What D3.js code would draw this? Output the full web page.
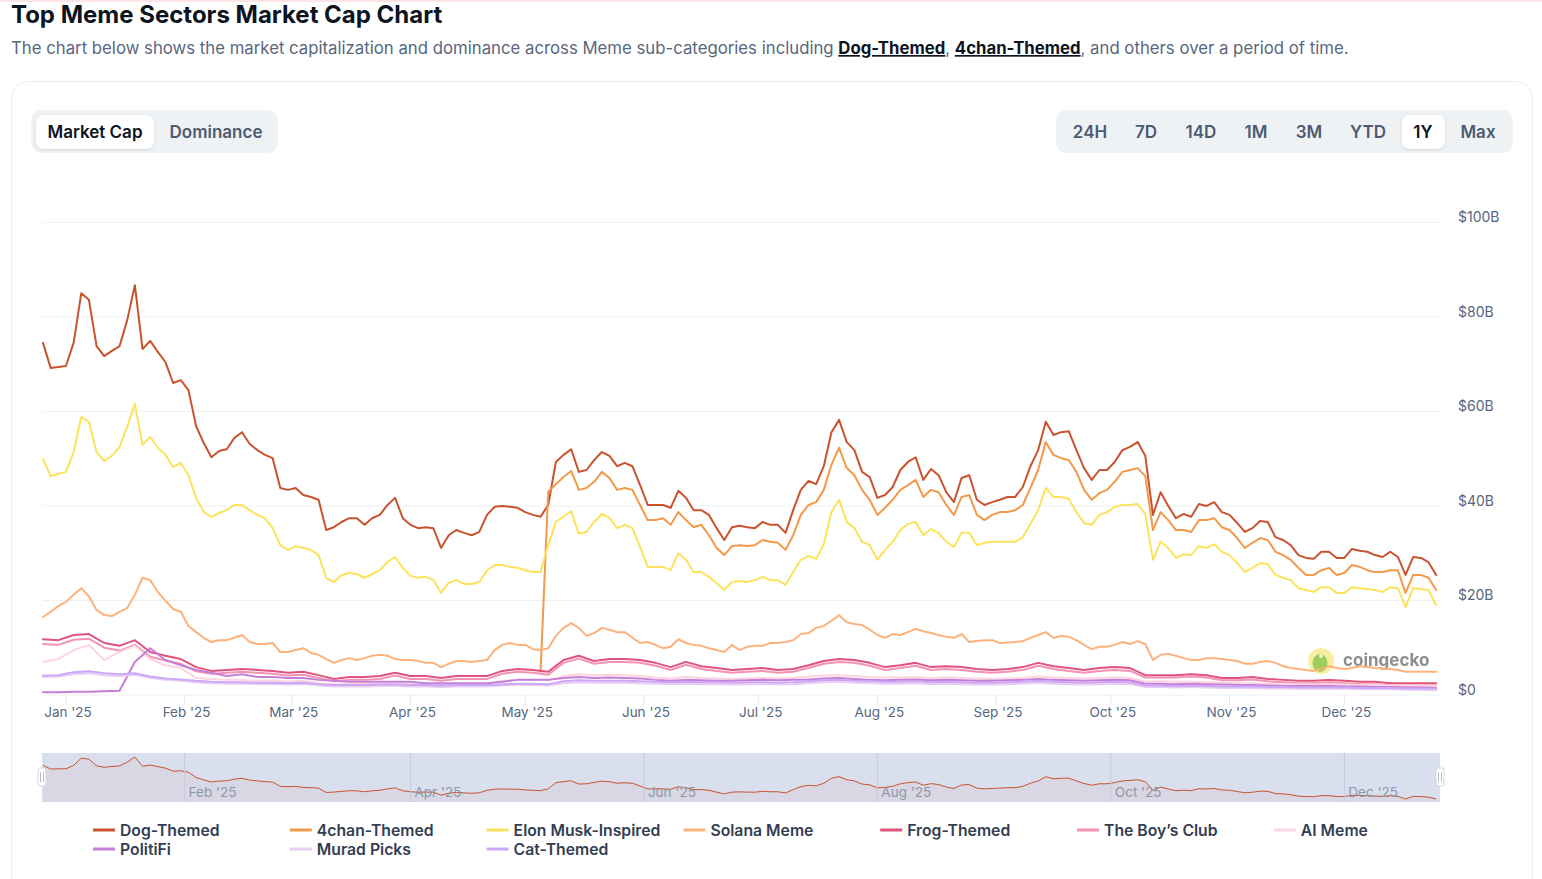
<!DOCTYPE html>
<html>
<head>
<meta charset="utf-8">
<script src="https://cdn.jsdelivr.net/npm/d3@7"></script>
<style>
  html, body { margin: 0; padding: 0; background: #fff; }
  svg { display: block; font-family: "Inter", "Noto Sans", sans-serif; }
</style>
</head>
<body>
<svg id="chart" width="1542" height="879"></svg>
<script>
// data, $B
const seriesNames = ["Dog-Themed", "4chan-Themed", "Elon Musk-Inspired", "Solana Meme", "Frog-Themed",
  "The Boy\u2019s Club", "AI Meme", "PolitiFi", "Murad Picks", "Cat-Themed"];
const seriesColors = ["#c9532f", "#f2994a", "#fde25c", "#fdb27c", "#e0537a",
  "#f392b4", "#fdd4df", "#c67fd6", "#e9cdf3", "#cba7f7"];

// one value every 2 days from 26 Dec 2024
const dogThemed = [74.5,69.2,69.4,69.6,74.5,85.0,83.6,73.8,71.7,72.8,
  73.8,79.3,86.7,73.2,74.9,72.6,70.4,66.0,66.6,64.5,
  56.9,53.3,50.3,51.6,52.0,54.4,55.6,53.1,51.8,50.8,
  50.1,43.8,43.4,43.8,42.3,41.9,41.3,34.9,35.5,36.6,
  37.4,37.4,36.0,37.4,38.1,40.2,41.7,37.4,36.0,35.3,
  35.5,35.3,31.1,33.8,34.9,34.3,33.8,34.5,38.1,
  39.8,40.0,39.8,39.6,38.7,38.1,37.7,40.2,49.3,50.8,
  52.0,47.2,47.6,49.7,51.4,50.6,48.4,49.1,48.4,44.4,
  40.2,40.2,40.2,39.6,43.2,41.7,39.1,39.1,38.1,35.3,
  32.8,35.5,35.8,35.5,35.3,36.6,36.0,36.0,34.3,39.1,
  43.4,45.3,44.6,48.4,55.6,58.2,53.5,51.8,47.2,46.1,
  41.7,42.3,44.0,47.6,49.3,50.3,45.5,47.8,46.5,42.9,
  40.8,45.9,46.5,41.3,40.2,40.8,41.3,41.9,41.9,44.0,
  48.4,51.8,57.8,55.0,55.6,55.8,51.8,48.0,45.5,47.6,
  47.6,49.3,51.8,52.5,53.5,50.6,38.1,42.9,40.0,37.4,
  38.3,37.7,40.4,40.0,40.8,38.7,38.1,36.4,34.5,35.3,
  36.8,36.6,33.4,32.8,31.7,29.6,29.0,28.8,30.3,
  30.3,29.0,29.0,30.9,30.5,30.3,29.6,29.2,30.3,29.2,
  25.4,29.2,29.0,28.1,25.4];

const fourchanThemed = [null,null,null,null,null,null,null,null,null,null,
  null,null,null,null,null,null,null,null,null,null,
  null,null,null,null,null,null,null,null,null,null,
  null,null,null,null,null,null,null,null,null,null,
  null,null,null,null,null,null,null,null,null,null,
  null,null,null,null,null,null,null,null,null,null,
  null,null,null,null,null,
  4.9,43.0,
  44.6,46.1,47.4,43.4,43.8,45.1,47.2,45.9,43.4,43.8,43.4,40.2,
  37.0,37.0,37.4,36.0,38.7,37.0,35.5,36.0,33.8,31.1,
  29.6,31.5,31.7,31.5,31.7,32.8,32.4,32.2,30.7,33.8,
  38.1,40.2,40.8,43.4,48.7,52.3,48.0,46.5,43.4,41.3,
  38.1,39.6,41.3,43.4,44.4,45.5,41.9,43.4,42.9,40.2,
  38.1,41.9,42.3,38.1,37.0,38.1,38.7,38.7,39.1,40.2,
  43.8,47.6,53.5,50.8,50.1,49.7,47.2,43.4,41.3,42.7,
  43.4,45.1,47.2,47.6,48.0,46.3,34.9,38.7,37.0,34.9,
  34.9,34.5,37.0,37.0,37.4,35.5,34.9,33.2,31.1,32.2,
  33.2,32.8,30.3,29.6,28.6,26.9,25.4,25.4,26.4,
  26.9,25.4,25.8,27.5,27.1,26.4,26.0,26.0,26.4,26.4,
  21.6,25.4,25.4,24.8,22.2];

const elonMusk = [49.9,46.3,46.8,47.2,51.4,58.8,57.8,51.4,49.5,50.6,
  52.5,56.7,61.6,52.9,54.6,52.3,50.8,48.2,49.1,46.5,
  41.7,38.7,37.7,38.5,39.1,40.2,40.2,39.1,38.1,37.4,
  35.3,31.7,30.7,31.5,31.1,30.7,29.6,24.8,23.9,25.4,
  25.8,25.6,24.8,25.6,26.4,28.1,29.2,26.9,25.2,24.8,
  25.0,24.3,21.6,23.7,24.3,23.5,23.5,23.9,26.4,
  27.5,27.5,27.1,26.9,26.4,26.0,26.0,31.7,36.6,37.7,
  38.9,34.1,34.5,36.6,38.3,37.4,35.3,36.0,35.3,31.3,
  27.1,27.1,27.1,26.4,30.0,28.6,26.0,26.0,25.0,23.7,
  22.2,23.9,24.1,23.9,24.3,25.0,24.3,24.3,23.3,26.0,
  28.6,29.4,28.8,31.9,38.7,41.3,36.6,35.3,32.4,31.7,
  28.6,30.7,32.4,34.9,36.2,36.6,33.8,35.1,34.3,32.4,
  31.3,34.3,34.3,31.7,32.2,32.4,32.4,32.4,32.4,33.4,
  36.2,39.1,43.8,41.9,41.9,41.5,38.7,36.4,36.0,38.1,
  38.7,39.8,40.2,40.2,40.4,38.3,28.6,32.4,31.1,29.0,
  29.8,29.6,31.5,31.1,31.9,30.3,29.6,27.9,26.0,26.9,
  27.9,27.7,25.4,24.8,24.3,22.6,22.2,21.8,22.8,
  22.8,21.6,21.6,22.8,22.6,22.4,22.2,21.8,22.8,22.6,
  18.6,22.6,22.4,22.2,19.0];

const solanaMeme = [16.5,17.6,18.8,19.7,21.2,22.6,20.9,18.0,16.9,16.7,
  17.6,18.4,21.2,24.8,24.3,21.8,19.9,18.2,17.6,14.6,
  13.3,12.1,11.2,11.6,11.6,12.1,12.7,11.2,10.8,10.8,
  11.0,9.1,9.1,9.5,9.9,8.9,8.5,7.6,6.8,7.4,
  7.8,7.4,7.8,8.3,8.5,8.3,7.6,7.4,7.4,7.2,
  6.8,6.8,5.9,6.6,7.2,7.2,7.0,7.2,7.4,
  9.5,10.6,11.0,10.6,10.6,9.7,9.5,9.9,12.5,14.2,
  15.2,14.2,12.5,13.1,14.2,13.8,13.3,13.3,12.1,11.0,
  11.2,10.6,9.9,10.2,11.8,11.0,10.6,10.4,9.9,9.5,
  9.1,10.6,9.5,10.2,10.4,10.4,11.0,11.0,11.2,11.6,
  12.9,13.1,14.2,14.6,15.7,16.9,15.4,15.0,14.8,13.8,
  12.7,12.1,12.9,12.7,13.3,14.0,13.5,13.1,12.7,12.3,
  12.1,12.9,11.2,11.4,11.6,11.6,11.0,11.1,11.2,11.4,
  12.1,12.7,13.3,12.1,12.5,12.3,11.6,10.6,9.7,10.2,
  10.2,10.6,11.2,10.8,11.4,10.8,7.4,8.5,8.7,8.3,
  7.8,7.4,7.4,7.8,7.8,7.6,7.4,7.2,6.6,6.6,
  7.0,7.2,6.8,6.1,5.7,5.5,5.3,5.1,5.5,
  6.1,5.7,5.5,5.7,6.1,5.9,5.7,5.6,5.5,5.3,
  4.9,4.9,4.9,4.9,4.9];

// one value every 4 days from 26 Dec 2024
const frogThemed = [11.8,11.6,12.7,12.9,11.0,10.4,11.6,9.1,8.3,7.6,
  5.9,5.1,5.3,5.5,5.3,5.1,4.7,4.9,4.2,3.4,
  3.8,3.8,4.0,4.7,4.0,4.0,3.6,4.0,4.0,4.0,
  5.1,5.5,5.3,4.9,7.4,8.3,7.2,7.6,7.6,7.4,
  6.8,5.9,7.0,6.1,5.7,5.3,5.5,5.7,5.3,5.5,
  6.3,7.2,7.6,7.4,6.8,5.9,6.3,6.8,5.9,
  6.1,5.9,5.5,5.3,5.5,5.9,6.8,6.1,5.7,5.3,
  5.7,5.9,5.7,4.2,4.2,4.2,4.4,4.2,3.6,3.6,
  3.8,3.4,3.2,3.0,3.0,3.2,3.0,2.8,2.8,2.5,
  2.5,2.5,2.5];
const boysClub = [10.8,10.6,11.7,11.9,10.0,9.4,10.6,8.1,7.3,6.6,5.0,
  4.5,4.7,4.9,4.7,4.5,4.1,4.3,3.6,2.9,3.2,3.2,3.4,4.1,3.4,3.4,3.0,3.4,3.4,3.4,
  4.5,4.9,4.7,4.3,6.8,7.7,6.6,7.0,7.0,6.8,6.2,5.3,6.4,5.5,5.1,4.7,4.9,5.1,4.7,4.9,5.7,6.6,7.0,6.8,6.2,
  5.3,5.7,6.2,5.3,5.5,5.3,4.9,4.7,4.9,5.3,6.2,5.5,5.1,4.7,5.1,5.3,5.1,3.7,3.7,3.7,3.9,3.7,3.1,3.1,
  3.3,2.9,2.7,2.5,2.5,2.7,2.5,2.3,2.3,2.0,2.0,2.0,2.0];
const aiMeme = [7.0,7.6,9.5,10.6,7.4,9.1,10.4,7.6,6.3,5.7,
  3.6,3.4,3.2,3.2,3.0,3.0,2.8,3.0,2.5,2.3,
  2.3,2.4,2.3,2.5,2.3,2.3,2.2,2.3,2.3,2.4,
  3.0,3.2,3.2,3.1,4.0,4.4,4.2,4.3,4.2,4.0,
  3.7,3.5,3.8,3.6,3.5,3.4,3.5,3.6,3.5,3.6,
  3.9,4.1,4.2,4.0,3.8,
  3.7,3.7,3.8,3.6,3.7,3.6,3.5,3.4,3.5,3.6,3.9,3.7,3.6,3.5,
  3.6,3.7,3.6,2.8,2.9,2.8,2.8,2.7,2.6,2.5,
  2.5,2.4,2.3,2.3,2.2,2.3,2.2,2.1,2.1,2.0,2.0,2.0,1.9];
const politiFi = [0.6,0.6,0.7,0.7,0.8,0.9,7.0,9.9,7.4,6.3,
  5.3,4.7,4.0,4.4,3.8,3.8,3.6,3.6,3.2,3.0,
  2.8,2.8,2.8,2.8,2.8,2.5,2.5,2.5,2.5,2.5,
  2.8,3.2,3.2,3.2,3.6,3.8,3.6,3.7,3.6,3.5,
  3.2,3.0,3.2,3.1,3.0,3.0,3.1,3.2,3.1,3.2,
  3.3,3.5,3.6,3.4,3.2,
  3.1,3.2,3.3,3.1,3.2,3.1,3.0,3.0,3.1,3.2,3.4,3.2,3.1,3.0,
  3.1,3.2,3.1,2.4,2.4,2.3,2.4,2.3,2.2,2.1,
  2.1,2.0,1.9,1.9,1.9,1.9,1.8,1.8,1.7,1.7,1.6,1.6,1.5];
const muradPicks = [3.8,3.9,4.4,4.6,4.2,4.0,4.3,3.6,3.2,3.0,
  2.7,2.5,2.4,2.4,2.3,2.3,2.2,2.3,2.0,1.8,
  1.8,1.8,1.9,1.9,1.8,1.8,1.7,1.8,1.8,1.8,
  2.0,2.1,2.1,2.0,2.5,2.7,2.6,2.6,2.6,2.5,
  2.4,2.3,2.4,2.3,2.3,2.2,2.3,2.3,2.2,2.3,
  2.5,2.7,2.8,2.6,2.5,
  2.4,2.4,2.5,2.3,2.4,2.3,2.2,2.2,2.3,2.4,2.6,2.4,2.3,2.2,
  2.3,2.4,2.3,1.7,1.7,1.6,1.7,1.6,1.5,1.5,
  1.5,1.4,1.4,1.3,1.3,1.3,1.3,1.2,1.2,1.2,1.1,1.1,1.0];
const catThemed = [4.1,4.2,4.8,5.0,4.6,4.4,4.6,3.9,3.5,3.3,
  3.0,2.8,2.7,2.7,2.6,2.6,2.5,2.6,2.3,2.1,
  2.1,2.1,2.2,2.2,2.1,2.1,2.0,2.1,2.1,2.1,
  2.3,2.4,2.4,2.3,2.9,3.1,3.0,3.0,3.0,2.9,
  2.8,2.7,2.8,2.7,2.7,2.6,2.7,2.7,2.6,2.7,
  2.9,3.1,3.2,3.0,2.9,
  2.8,2.8,2.9,2.7,2.8,2.7,2.6,2.6,2.7,2.8,3.0,2.8,2.7,2.6,
  2.7,2.8,2.7,2.0,2.0,1.9,2.0,1.9,1.8,1.8,
  1.8,1.7,1.7,1.6,1.6,1.6,1.6,1.5,1.5,1.5,1.4,1.4,1.3];

const yTicks = [0, 20, 40, 60, 80, 100];
const rangeButtons = ["24H", "7D", "14D", "1M", "3M", "YTD", "1Y", "Max"];
const modeButtons = ["Market Cap", "Dominance"];

const startDate = new Date(2024, 11, 26);
const endDate = new Date(2025, 11, 26);
const datesFor = (vals, step) => vals.map((_, i) => d3.timeDay.offset(startDate, i * step));

const allValues = [dogThemed, fourchanThemed, elonMusk, solanaMeme, frogThemed,
  boysClub, aiMeme, politiFi, muradPicks, catThemed];
const series = seriesNames.map((name, i) => ({
  name, color: seriesColors[i], values: allValues[i],
  dates: datesFor(allValues[i], i < 4 ? 2 : 4)
}));

const svg = d3.select("#chart");
const plotL = 43, plotR = 1440, plotT = 222.3, plotB = 695;

const x = d3.scaleTime().domain([startDate, endDate]).range([plotL, plotR]);
const y = d3.scaleLinear().domain([0, 100]).range([plotB, plotT]);

// header
svg.append("line").attr("x1", 0).attr("x2", 1542).attr("y1", 1).attr("y2", 1)
  .attr("stroke", "#fde4e7").attr("stroke-width", 2);
svg.append("text").attr("x", 11).attr("y", 23)
  .attr("font-size", 24).attr("font-weight", 700).attr("fill", "#0d1421")
  .text("Top Meme Sectors Market Cap Chart");
const sub = svg.append("text").attr("x", 11).attr("y", 54)
  .attr("font-size", 16.75).attr("fill", "#58667e");
sub.append("tspan").text("The chart below shows the market capitalization and dominance across Meme sub-categories including ");
sub.append("tspan").attr("font-weight", 700).attr("fill", "#0d1421").attr("text-decoration", "underline").text("Dog-Themed");
sub.append("tspan").text(", ");
sub.append("tspan").attr("font-weight", 700).attr("fill", "#0d1421").attr("text-decoration", "underline").text("4chan-Themed");
sub.append("tspan").text(", and others over a period of time.");

// card
svg.append("rect").attr("x", 11.5).attr("y", 81.5).attr("width", 1521).attr("height", 900)
  .attr("rx", 16).attr("fill", "none").attr("stroke", "#e8ebf0");

const defs = svg.append("defs");
const sh = defs.append("filter").attr("id", "sh").attr("x", "-20%").attr("y", "-30%").attr("width", "140%").attr("height", "160%");
sh.append("feDropShadow").attr("dx", 0).attr("dy", 1).attr("stdDeviation", 1.5)
  .attr("flood-color", "#000").attr("flood-opacity", 0.12);

// toggles
svg.append("rect").attr("x", 31).attr("y", 110).attr("width", 247).attr("height", 43).attr("rx", 10).attr("fill", "#eff2f5");
svg.append("rect").attr("x", 36).attr("y", 115).attr("width", 118).attr("height", 34).attr("rx", 8)
  .attr("fill", "#fff").attr("filter", "url(#sh)");
const modeX = [95, 216];
modeButtons.forEach((t, i) => {
  svg.append("text").attr("x", modeX[i]).attr("y", 132).attr("dy", "0.35em")
    .attr("text-anchor", "middle").attr("font-size", 17).attr("font-weight", 600)
    .attr("fill", i === 0 ? "#0d1421" : "#4d5b70").text(t);
});

svg.append("rect").attr("x", 1056).attr("y", 110).attr("width", 457).attr("height", 43).attr("rx", 10).attr("fill", "#eff2f5");
svg.append("rect").attr("x", 1402).attr("y", 115).attr("width", 43).attr("height", 34).attr("rx", 8)
  .attr("fill", "#fff").attr("filter", "url(#sh)");
const rangeX = [1090, 1146, 1201, 1256, 1309, 1368, 1423, 1478];
rangeButtons.forEach((t, i) => {
  svg.append("text").attr("x", rangeX[i]).attr("y", 132).attr("dy", "0.35em")
    .attr("text-anchor", "middle").attr("font-size", 17).attr("font-weight", 600)
    .attr("fill", t === "1Y" ? "#0d1421" : "#4d5b70").text(t);
});

// grid + y axis
const g = svg.append("g");
g.selectAll(".grid").data(yTicks).join("line")
  .attr("x1", plotL).attr("x2", plotR)
  .attr("y1", d => y(d)).attr("y2", d => y(d))
  .attr("stroke", "#eef0f4").attr("stroke-width", 1);
g.selectAll(".ylab").data(yTicks).join("text")
  .attr("x", 1458).attr("y", d => y(d) - 5).attr("dy", "0.35em")
  .attr("font-size", 14).attr("fill", "#58667e")
  .text(d => d === 0 ? "$0" : `$${d}B`);

// x axis
const months = d3.timeMonth.range(new Date(2025, 0, 1), new Date(2025, 11, 2));
const fmt = d3.timeFormat("%b '%y");
g.selectAll(".xt").data(months).join("line")
  .attr("x1", d => x(d)).attr("x2", d => x(d)).attr("y1", plotB).attr("y2", plotB + 10)
  .attr("stroke", "#e3e6ec");
g.selectAll(".xl").data(months).join("text")
  .attr("x", d => x(d) + 2).attr("y", 712).attr("dy", "0.35em").attr("text-anchor", "middle")
  .attr("font-size", 13.5).attr("fill", "#58667e").text(d => fmt(d));

// watermark
const wm = svg.append("g").attr("opacity", 0.85);
wm.append("circle").attr("cx", 1321).attr("cy", 661).attr("r", 13).attr("fill", "#f6ec92");
wm.append("ellipse").attr("cx", 1320).attr("cy", 663).attr("rx", 7.5).attr("ry", 9).attr("fill", "#8cc63f");
wm.append("circle").attr("cx", 1321).attr("cy", 656).attr("r", 1.8).attr("fill", "#fff");
wm.append("text").attr("x", 1343).attr("y", 666).attr("font-size", 17).attr("font-weight", 700)
  .attr("fill", "#7a7a7a").text("coingecko");

// lines
const line = (dates) => d3.line()
  .defined(d => d != null)
  .x((d, i) => x(dates[i]))
  .y(d => y(d));
const lg = svg.append("g").attr("fill", "none").attr("stroke-linejoin", "round").attr("stroke-linecap", "round");
series.forEach(s => {
  lg.append("path").attr("d", line(s.dates)(s.values))
    .attr("stroke", s.color).attr("stroke-width", 2);
});

// navigator
const navTop = 753, navBot = 802;
svg.append("rect").attr("x", 42).attr("y", navTop).attr("width", plotR - 42).attr("height", navBot - navTop)
  .attr("fill", "#dadfee");
const ny = d3.scaleLinear().domain(d3.extent(dogThemed)).range([799, 757]);
const navDates = series[0].dates;
svg.append("path")
  .attr("d", d3.area().x((d, i) => x(navDates[i])).y0(navBot).y1(d => ny(d))(dogThemed))
  .attr("fill", "#c9532f").attr("fill-opacity", 0.05);
svg.append("path")
  .attr("d", d3.line().x((d, i) => x(navDates[i])).y(d => ny(d))(dogThemed))
  .attr("fill", "none").attr("stroke", "#c9532f").attr("stroke-width", 1);
const navMonths = months.filter(d => d.getMonth() % 2 === 1);
svg.selectAll(".nt").data(navMonths).join("line")
  .attr("x1", d => x(d)).attr("x2", d => x(d)).attr("y1", navTop).attr("y2", navBot)
  .attr("stroke", "#c5cadb");
svg.selectAll(".nl").data(navMonths).join("text")
  .attr("x", d => x(d) + 4).attr("y", 792).attr("dy", "0.35em")
  .attr("font-size", 13.5).attr("fill", "#8d97aa").text(d => fmt(d));
[42, plotR].forEach(hx => {
  svg.append("rect").attr("x", hx - 4).attr("y", 768).attr("width", 8).attr("height", 18).attr("rx", 2)
    .attr("fill", "#fff").attr("stroke", "#cfd3dc");
  [-1.5, 1.5].forEach(o => svg.append("line").attr("x1", hx + o).attr("x2", hx + o)
    .attr("y1", 772).attr("y2", 782).attr("stroke", "#b8bcc6"));
});

// legend
const leg = svg.append("g");
series.forEach((s, i) => {
  const col = i < 7 ? i : i - 7, row = i < 7 ? 0 : 1;
  const lx = 93 + col * 196.8, ly = 830 + row * 19;
  leg.append("line").attr("x1", lx).attr("x2", lx + 22).attr("y1", ly).attr("y2", ly)
    .attr("stroke", s.color).attr("stroke-width", 3);
  leg.append("text").attr("x", lx + 27).attr("y", ly).attr("dy", "0.35em")
    .attr("font-size", 15.75).attr("font-weight", 600).attr("fill", "#333e52").text(s.name);
});
</script>
</body>
</html>
